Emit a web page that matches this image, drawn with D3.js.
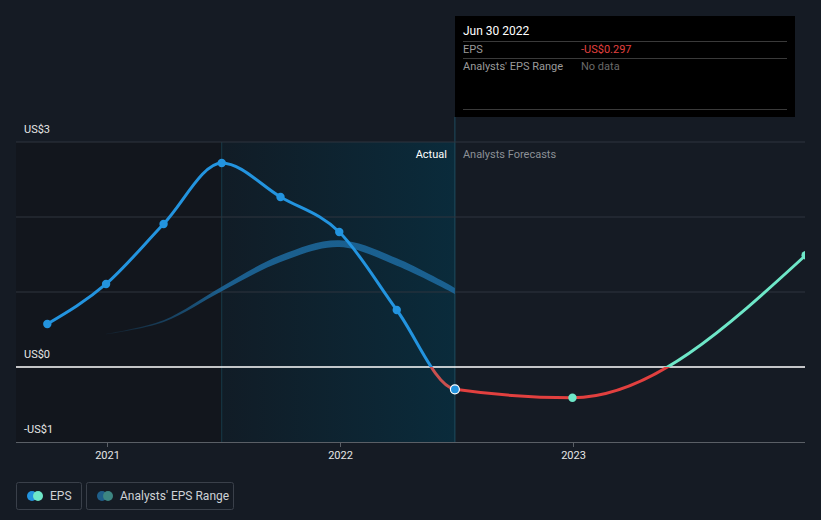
<!DOCTYPE html>
<html><head><meta charset="utf-8">
<script src="https://cdn.jsdelivr.net/npm/d3@7"></script>
<style>
html,body{margin:0;padding:0;background:#151b24;}
svg{display:block;font-family:Roboto,"Open Sans",sans-serif;}
</style></head>
<body><svg id="c" width="821" height="520"></svg>
<script>
// ---- data ----
const epsDates = ["2020-09-30","2020-12-31","2021-03-31","2021-06-30","2021-09-30","2021-12-31","2022-03-31","2022-06-30"];
const epsValues = [0.573, 1.107, 1.907, 2.72, 2.267, 1.80, 0.76, -0.297];
const forecastDates = ["2022-06-30","2022-12-31","2023-12-31"];
const forecastValues = [-0.297, -0.41, 1.49];
const rangeDates = ["2020-12-31","2021-03-31","2021-06-30","2021-09-30","2021-12-31","2022-03-31","2022-06-30"];
const rangeLow  = [0.435, 0.60, 1.01, 1.40, 1.60, 1.35, 0.975];
const rangeHigh = [0.445, 0.625, 1.07, 1.49, 1.69, 1.45, 1.055];
const yTicks = [-1, 0, 3];
const yTickLabels = ["-US$1", "US$0", "US$3"];
const xTicks = ["2021-01-01","2022-01-01","2023-01-01"];
const xTickLabels = ["2021","2022","2023"];
const pastStart = "2021-06-30", todayDate = "2022-06-30";
const tooltip = {date:"Jun 30 2022", eps:"-US$0.297", range:"No data"};

const P = d3.timeParse("%Y-%m-%d");
const svg = d3.select("#c");
const L = 16, R = 805, T = 142, B = 442;
const x = d3.scaleTime().domain([P("2020-08-12"), P("2023-12-30")]).range([L, R]);
const y = d3.scaleLinear().domain([-1, 3]).range([B, T]);

const defs = svg.append("defs");
const g1 = defs.append("linearGradient").attr("id","hl").attr("x1","0").attr("x2","1").attr("y1","0").attr("y2","0");
g1.append("stop").attr("offset","0").attr("stop-color","#111c26");
g1.append("stop").attr("offset","1").attr("stop-color","#0a2b3b");
const g2 = defs.append("linearGradient").attr("id","bandg").attr("gradientUnits","userSpaceOnUse")
  .attr("x1",x(P(rangeDates[0]))).attr("x2",x(P("2021-06-30"))).attr("y1",0).attr("y2",0);
g2.append("stop").attr("offset","0").attr("stop-color","#1d6a9f").attr("stop-opacity",0.1);
g2.append("stop").attr("offset","1").attr("stop-color","#1d6a9f").attr("stop-opacity",0.85);
defs.append("clipPath").attr("id","plot").append("rect").attr("x",L).attr("y",0).attr("width",R-L).attr("height",B);

// background regions
svg.append("rect").attr("x",L).attr("y",T).attr("width",x(P(pastStart))-L).attr("height",B-T).attr("fill","#12161d");
svg.append("rect").attr("x",x(P(pastStart))).attr("y",T).attr("width",x(P(todayDate))-x(P(pastStart))).attr("height",B-T).attr("fill","url(#hl)");
svg.append("line").attr("x1",x(P(pastStart))).attr("x2",x(P(pastStart))).attr("y1",T).attr("y2",B).attr("stroke","#173a48").attr("stroke-width",1);
svg.append("line").attr("x1",x(P(todayDate))).attr("x2",x(P(todayDate))).attr("y1",T-25).attr("y2",B).attr("stroke","#1e4c5e").attr("stroke-width",1);

// gridlines
[3,2,1].forEach(v=>{
  svg.append("line").attr("x1",L).attr("x2",R).attr("y1",y(v)).attr("y2",y(v)).attr("stroke","#2f353f").attr("stroke-width",1);
});
// y labels
yTicks.forEach((v,i)=>{
  svg.append("text").attr("x",24).attr("y",y(v)-9).attr("fill","#e6e6e6").attr("font-size",11).text(yTickLabels[i]);
});

// x axis
svg.append("line").attr("x1",L).attr("x2",R).attr("y1",B+0.5).attr("y2",B+0.5).attr("stroke","#5a5f66").attr("stroke-width",1);
xTicks.forEach((d,i)=>{
  const xx = Math.round(x(P(d)))+0.5;
  svg.append("line").attr("x1",xx).attr("x2",xx).attr("y1",B).attr("y2",B+5).attr("stroke","#5a5f66");
  svg.append("text").attr("x",xx).attr("y",B+17).attr("text-anchor","middle").attr("fill","#e6e6e6").attr("font-size",11).text(xTickLabels[i]);
});

// Actual / Forecast labels
svg.append("text").attr("x",x(P(todayDate))-8).attr("y",T+16).attr("text-anchor","end").attr("fill","#ffffff").attr("font-size",11).text("Actual");
svg.append("text").attr("x",x(P(todayDate))+8).attr("y",T+16).attr("fill","#8c9096").attr("font-size",11).text("Analysts Forecasts");

// analyst range band
const rangeData = rangeDates.map((d,i)=>({d:P(d), lo:rangeLow[i], hi:rangeHigh[i]}));
const band = d3.area().x(d=>x(d.d)).y0(d=>y(d.lo)).y1(d=>y(d.hi)).curve(d3.curveCatmullRom.alpha(0.5));
svg.append("path").datum(rangeData).attr("d",band).attr("fill","url(#bandg)");

// zero line
svg.append("line").attr("x1",L).attr("x2",R).attr("y1",y(0)).attr("y2",y(0)).attr("stroke","#ffffff").attr("stroke-width",1.3);

// EPS line (actual + forecast) as one smooth path
const allDates = epsDates.concat(forecastDates.slice(1));
const allVals = epsValues.concat(forecastValues.slice(1));
const allData = allDates.map((d,i)=>({d:P(d), v:allVals[i]}));
const line = d3.line().x(d=>x(d.d)).y(d=>y(d.v)).curve(d3.curveMonotoneX);
const gp = svg.append("g").attr("clip-path","url(#plot)");
const tx = x(P(todayDate));
defs.append("clipPath").attr("id","actA").append("rect").attr("x",0).attr("y",0).attr("width",tx).attr("height",y(0));
defs.append("clipPath").attr("id","actB").append("rect").attr("x",0).attr("y",y(0)).attr("width",tx).attr("height",200);
defs.append("clipPath").attr("id","fcA").append("rect").attr("x",tx).attr("y",0).attr("width",821-tx).attr("height",y(0));
defs.append("clipPath").attr("id","fcB").append("rect").attr("x",tx).attr("y",y(0)).attr("width",821-tx).attr("height",200);
const segs = [["actA","#2394df"],["actB","#c9504f"],["fcA","#6ee7c8"],["fcB","#e2403f"]];
segs.forEach(s=>{
  gp.append("g").attr("clip-path",`url(#${s[0]})`).append("path").datum(allData).attr("d",line)
    .attr("fill","none").attr("stroke",s[1]).attr("stroke-width",3);
});

// points
epsDates.forEach((d,i)=>{
  const last = i===epsDates.length-1;
  gp.append("circle").attr("cx",x(P(d))).attr("cy",y(epsValues[i])).attr("r",last?4.5:4.2)
    .attr("fill","#2394df").attr("stroke",last?"#ffffff":"none").attr("stroke-width",last?1.2:0);
});
forecastDates.slice(1).forEach((d,i)=>{
  gp.append("circle").attr("cx",x(P(d))).attr("cy",y(forecastValues[i+1])).attr("r",4.2).attr("fill","#6ee7c8");
});

// tooltip
const tt = svg.append("g");
tt.append("rect").attr("x",455).attr("y",16).attr("width",340).attr("height",101).attr("fill","#000000");
tt.append("text").attr("x",463).attr("y",35).attr("fill","#ffffff").attr("font-size",12).text(tooltip.date);
[41.5,58.5,109.5].forEach(yy=>tt.append("line").attr("x1",463).attr("x2",787).attr("y1",yy).attr("y2",yy).attr("stroke","#3a3a3a"));
tt.append("text").attr("x",463).attr("y",53).attr("fill","#9a9a9a").attr("font-size",11).text("EPS");
tt.append("text").attr("x",581).attr("y",53).attr("fill","#e2403f").attr("font-size",11).text(tooltip.eps);
tt.append("text").attr("x",463).attr("y",70).attr("fill","#9a9a9a").attr("font-size",11).text("Analysts' EPS Range");
tt.append("text").attr("x",581).attr("y",70).attr("fill","#6a6a6a").attr("font-size",11).text(tooltip.range);

// legend
const lg = svg.append("g");
lg.append("rect").attr("x",16.5).attr("y",482.5).attr("width",65).attr("height",27).attr("rx",2).attr("fill","none").attr("stroke","#3a404a");
lg.append("circle").attr("cx",32).attr("cy",496).attr("r",5).attr("fill","#2394df");
lg.append("circle").attr("cx",38).attr("cy",496).attr("r",5).attr("fill","#6ee7c8");
lg.append("text").attr("x",50).attr("y",500).attr("fill","#cfd2d6").attr("font-size",12).text("EPS");
lg.append("rect").attr("x",86.5).attr("y",482.5).attr("width",147).attr("height",27).attr("rx",2).attr("fill","none").attr("stroke","#3a404a");
lg.append("circle").attr("cx",102).attr("cy",496).attr("r",5).attr("fill","#1f5f8a");
lg.append("circle").attr("cx",108).attr("cy",496).attr("r",5).attr("fill","#3d8682");
lg.append("text").attr("x",120).attr("y",500).attr("fill","#cfd2d6").attr("font-size",12).text("Analysts' EPS Range");
</script></body></html>
